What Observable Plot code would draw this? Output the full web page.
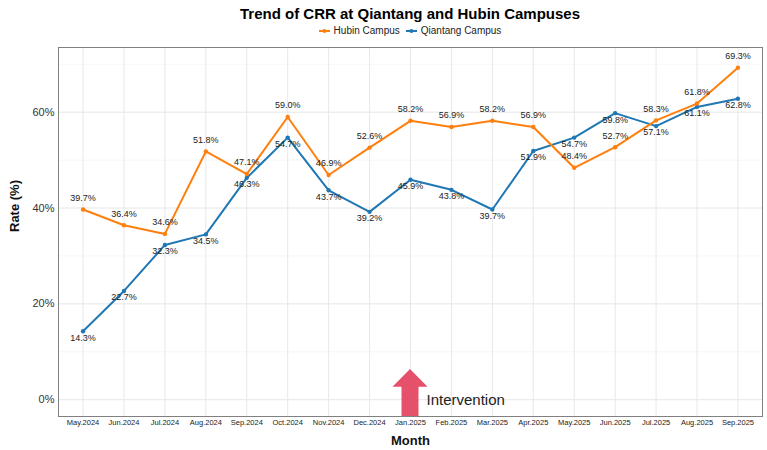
<!DOCTYPE html>
<html><head><meta charset="utf-8">
<script src="https://cdn.jsdelivr.net/npm/d3@7"></script>
<script src="https://cdn.jsdelivr.net/npm/@observablehq/plot@0.6"></script>
<style>
body{margin:0;background:#fff;font-family:"Liberation Sans",Arial,sans-serif;}
#wrap{width:767px;position:relative;}
#head{position:relative;width:767px;height:40px;}
#title{position:absolute;left:58px;width:704px;top:4px;text-align:center;font-weight:bold;font-size:15px;line-height:20px;color:#000;}
#legend{position:absolute;left:58px;width:704px;top:24px;text-align:center;font-size:10px;line-height:14px;color:#222;}
.li{display:inline-flex;align-items:center;margin:0 3px;}
.li svg{margin-right:4px;}
</style></head><body>
<div id="wrap">
  <div id="head"><div id="title"></div><div id="legend"></div></div>
  <div id="chart"></div>
</div>
<script>
const months = ["May.2024","Jun.2024","Jul.2024","Aug.2024","Sep.2024","Oct.2024","Nov.2024","Dec.2024","Jan.2025","Feb.2025","Mar.2025","Apr.2025","May.2025","Jun.2025","Jul.2025","Aug.2025","Sep.2025"];
const hubin = [39.7,36.4,34.6,51.8,47.1,59.0,46.9,52.6,58.2,56.9,58.2,56.9,48.4,52.7,58.3,61.8,69.3];
const qiantang = [14.3,22.7,32.3,34.5,46.3,54.7,43.7,39.2,45.9,43.8,39.7,51.9,54.7,59.8,57.1,61.1,62.8];
const seriesNames = ["Hubin Campus","Qiantang Campus"];
const seriesColors = ["#ff7f0e","#1f77b4"];
const majorTicks = [0,20,40,60];
const minorTicks = [10,30,50,70];
const intervention = [{month:"Jan.2025", tip:6.3, headBase:2.6, label:"Intervention"}];
const titleText = "Trend of CRR at Qiantang and Hubin Campuses";

document.getElementById("title").textContent = titleText;
const leg = document.getElementById("legend");
seriesNames.forEach((n,i)=>{
  const s = document.createElement("span"); s.className="li";
  s.innerHTML = `<svg width="11" height="8"><line x1="0" x2="11" y1="4" y2="4" stroke="${seriesColors[i]}" stroke-width="2"/><circle cx="5.5" cy="4" r="2" fill="${seriesColors[i]}"/></svg>`;
  s.appendChild(document.createTextNode(n));
  leg.appendChild(s);
});

const hData = months.map((m,i)=>({month:m, value:hubin[i], series:seriesNames[0]}));
const qData = months.map((m,i)=>({month:m, value:qiantang[i], series:seriesNames[1]}));

function arrowRender(index, scales, values, dims) {
  const g = d3.create("svg:g");
  const yBottom = dims.height - dims.marginBottom;
  for (const i of index) {
    const d = intervention[i];
    const x = scales.x(d.month);
    const yt = scales.y(d.tip), yb = scales.y(d.headBase);
    const sw = 8.5, hw = 17.5;
    const p = `M${x-sw},${yBottom}L${x-sw},${yb}L${x-hw},${yb}L${x},${yt}L${x+hw},${yb}L${x+sw},${yb}L${x+sw},${yBottom}Z`;
    g.append("path").attr("d", p).attr("fill", "#e5506a");
  }
  return g.node();
}

const chart = Plot.plot({
  width: 767, height: 410,
  marginLeft: 58, marginRight: 5, marginTop: 7, marginBottom: 34,
  style: {fontFamily: "Liberation Sans, Arial, sans-serif", background: "#fff"},
  x: {type: "point", domain: months, padding: 0.6, round: false, label: null},
  y: {domain: [-3.5, 73.5], label: null},
  marks: [
    Plot.ruleY(minorTicks, {stroke: "#f2f2f2", strokeWidth: 0.7}),
    Plot.ruleY(majorTicks, {stroke: "#e6e6e6", strokeWidth: 1}),
    Plot.ruleX(months, {stroke: "#e8e8e8", strokeWidth: 1}),
    Plot.axisY(majorTicks, {tickFormat: d => d + "%", fontSize: 11, tickSize: 0, tickPadding: 4, fill: "#333", label: null}),
    Plot.axisX(months, {fontSize: 7.5, tickSize: 0, tickPadding: 3, fill: "#222", label: null}),
    Plot.text(["Month"], {frameAnchor: "bottom", lineAnchor: "middle", dy: 24, fontSize: 13, fontWeight: "bold", fill: "#111"}),
    Plot.text(["Rate (%)"], {frameAnchor: "left", dx: -44, rotate: -90, fontSize: 13, fontWeight: "bold", fill: "#111"}),
    Plot.dot(intervention, {x: "month", y: "tip", render: arrowRender}),
    Plot.text(intervention, {x: "month", y: 0, text: "label", dx: 16, textAnchor: "start", fontSize: 15, fill: "#222"}),
    Plot.line(qData, {x: "month", y: "value", stroke: seriesColors[1], strokeWidth: 2}),
    Plot.dot(qData, {x: "month", y: "value", fill: seriesColors[1], r: 2.2}),
    Plot.line(hData, {x: "month", y: "value", stroke: seriesColors[0], strokeWidth: 2}),
    Plot.dot(hData, {x: "month", y: "value", fill: seriesColors[0], r: 2.2}),
    Plot.text(hData, {x: "month", y: "value", text: d => d.value.toFixed(1) + "%", dy: -11.5, fontSize: 9, fill: "#222"}),
    Plot.text(qData, {x: "month", y: "value", text: d => d.value.toFixed(1) + "%", dy: 6.5, fontSize: 9, fill: "#222"}),
    Plot.frame({stroke: "#808080", strokeWidth: 1})
  ]
});
document.getElementById("chart").appendChild(chart);
</script>
</body></html>
